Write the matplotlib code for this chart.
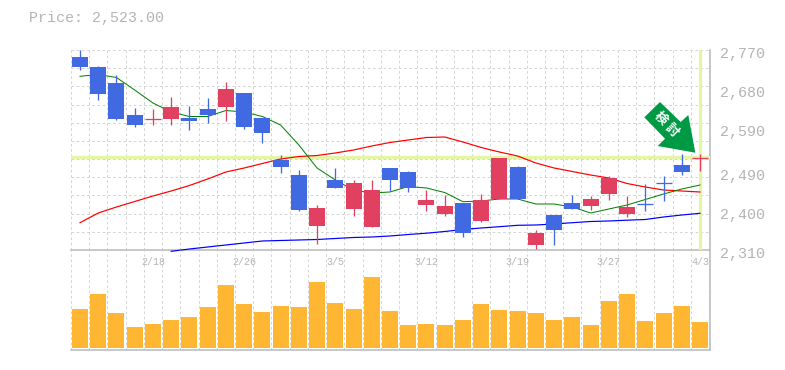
import numpy as np
import matplotlib
matplotlib.use("Agg")
import matplotlib.pyplot as plt
from matplotlib.patches import Polygon

W, H = 785, 370
DPI = 100
plt.rcParams['font.family'] = ['Liberation Mono', 'Noto Sans CJK JP', 'DejaVu Sans']

current_price = 2523.0
# pixel-read estimates, expressed as price levels through to_price
def to_price(y):
    return [None if v is None else 2310 + (250 - v) * 2.3 for v in y]

body_top = to_price([57,67,83,115,119.3,107,118,109,89,93,118,160,175,208,180,183,190,168,172,200,206,203,200,158,167,233,215,203,199,178,207,204.3,183,165,158])
body_bot = to_price([67,94,119,125,119.3,119,121,115,107,127,133,167,210,226,188,209,227,180,188,205,214,233,221,199,199,245,230,209,206,194,214,204.3,183,172,158])
highs = to_price([50,66,75,108,109,97,106,98,82,93,118,155,170,205,168,180,180,168,171,190,195,203,194,158,166,230,215,195,196,176,196,184,176,154,154])
lows = to_price([70,100,120,127,125,125,130,123,121,129,143,173,211,244,188,216,227,191,192,211,216,237,222,199,199,249,245,209,210,200,217,211,201,175,171])
is_up = [0,0,0,0,1,1,0,0,1,0,0,0,0,1,0,1,1,0,0,1,1,0,1,1,0,1,0,0,1,1,1,0,0,0,1]

ma_short = to_price([76.3,74.5,77.5,90,103,112,116.5,116.5,110.5,112,116.5,125,145,168,180,190,193,192,186.5,188,192.5,201.7,201,199,199,204,204,207,213,209,205,199.5,194,189,185])
ma_mid = to_price([222.7,213,207,201.5,196,191,185.5,179,172,168,163.5,159,156.5,155.5,153,150,146,142.5,140,137.5,137,142,147.5,152,156,163,168,171.5,175,178,183.5,187,190,191,192])
ma_long = to_price([None,None,None,None,None,251.3,249,247,245,243,241,240.5,240,239.5,238.5,237.5,237,236,234.5,233.2,231.5,229.5,228,226.7,225.3,225,224,222.7,221.5,221,220.2,219.5,217,215,213.3])
volume = [39,54,35,21,24,28,31,41,63,44,36,42,41,66,45,39,71,37,23,24,23,28,44,38,37,35,28,31,23,47,54,27,35,42,26]

price_ticks = [2310, 2400, 2490, 2590, 2680, 2770]
price_labels = ['2,310', '2,400', '2,490', '2,590', '2,680', '2,770']
date_idx = [4, 9, 14, 19, 24, 29, 34]
date_labels = ['2/18', '2/26', '3/5', '3/12', '3/19', '3/27', '4/3']

RED, BLUE, ORANGE, HL = '#e24060', '#4169e1', '#ffb733', '#e4f5a6'
GRID, AXIS, TXT = '#d4d4d4', '#bcbcbc', '#b4b4b4'
px = 72 / DPI

fig = plt.figure(figsize=(W / DPI, H / DPI), dpi=DPI, facecolor='white')
L, R = 70.5, 710.0
def axes_px(top, bot):
    return fig.add_axes([L / W, 1 - bot / H, (R - L) / W, (bot - top) / H])
ax = axes_px(50, 250)
axv = axes_px(250, 350)
x0 = (L - 80) / 18.235
x1 = (R - 80) / 18.235
ax.set_xlim(x0, x1); axv.set_xlim(x0, x1)
ax.set_ylim(2310, 2770)
axv.set_ylim(-2, 98)
n = len(volume)
xs = np.arange(n)
dash = (0, (2.6, 2.6))
for a in (ax, axv):
    a.set_facecolor('none')
    for s in a.spines.values():
        s.set_visible(False)
    a.set_xticks([]); a.set_yticks([])
    for k in range(n + 1):
        a.axvline(k - 0.5, color=GRID, lw=1.0 * px, ls=dash, zorder=0)
for p in np.linspace(2310, 2770, 12)[1:]:
    ax.axhline(p, color=GRID, lw=1.0 * px, ls=dash, zorder=0)

for a, yv in ((ax, 2310), (axv, -2)):
    a.axhline(yv, color=AXIS, lw=1.6 * px, zorder=1, clip_on=False)
for a in (ax, axv):
    a.axvline(x1, color=AXIS, lw=1.6 * px, zorder=1, clip_on=False)

ax.axhline(current_price, color=HL, lw=3.2 * px, zorder=1.5)
ax.axvline(n - 1, color=HL, lw=3.2 * px, zorder=1.5)

to_arr = lambda s: np.array([np.nan if v is None else v for v in s], float)
ax.plot(xs, to_arr(ma_mid), color='#ff0000', lw=1.2 * px, zorder=2, clip_on=False)
ax.plot(xs, to_arr(ma_long), color='#0000ff', lw=1.2 * px, zorder=2, clip_on=False)
ax.plot(xs, to_arr(ma_short), color='#008000', lw=1.0 * px, zorder=2, clip_on=False)

bw = 16 / 18.235
for i in range(n):
    c = RED if is_up[i] else BLUE
    ax.plot([i, i], [lows[i], highs[i]], color=c, lw=1.3 * px, solid_capstyle='butt', zorder=3, clip_on=False)
    h = body_top[i] - body_bot[i]
    if h == 0:
        ax.plot([i - bw / 2, i + bw / 2], [body_top[i]] * 2, color=c, lw=1.3 * px, solid_capstyle='butt', zorder=3)
    else:
        ax.bar(i, h, bottom=body_bot[i], width=bw, color=c, linewidth=0, zorder=3)

axv.bar(xs, volume, width=bw, color=ORANGE, linewidth=0, zorder=3)

for p, lab in zip(price_ticks, price_labels):
    fig.text(720 / W, 1 - (250 - (p - 2310) / 2.3 + 4) / H, lab, color=TXT, fontsize=15 * px,
             ha='left', va='center')
for i, lab in zip(date_idx, date_labels):
    axv.text(i, 86, lab, color=TXT, fontsize=10 * px, ha='center', va='center', zorder=4)
fig.text(29 / W, 1 - 18 / H, f'Price: {current_price:,.2f}', color=TXT, fontsize=15 * px, ha='left', va='center')

# green annotation arrow (figure pixels)
arrow = [(660, 102), (644.3, 117.3), (665, 138.7), (657.7, 146), (695.3, 152.7), (688.3, 115), (680.7, 122)]
fig.add_artist(Polygon([(x / W, 1 - y / H) for x, y in arrow], closed=True, transform=fig.transFigure,
                       facecolor='#009944', edgecolor='none', zorder=6))
for ch, (x, y) in zip('検討', [(660.7, 118), (671.5, 129.7)]):
    fig.text(x / W, 1 - y / H, ch, color='white', fontsize=13 * px, fontweight='bold', rotation=-45,
             ha='center', va='center', family='Noto Sans CJK JP', zorder=7)

fig.savefig('out.png', dpi=DPI, facecolor='white')
